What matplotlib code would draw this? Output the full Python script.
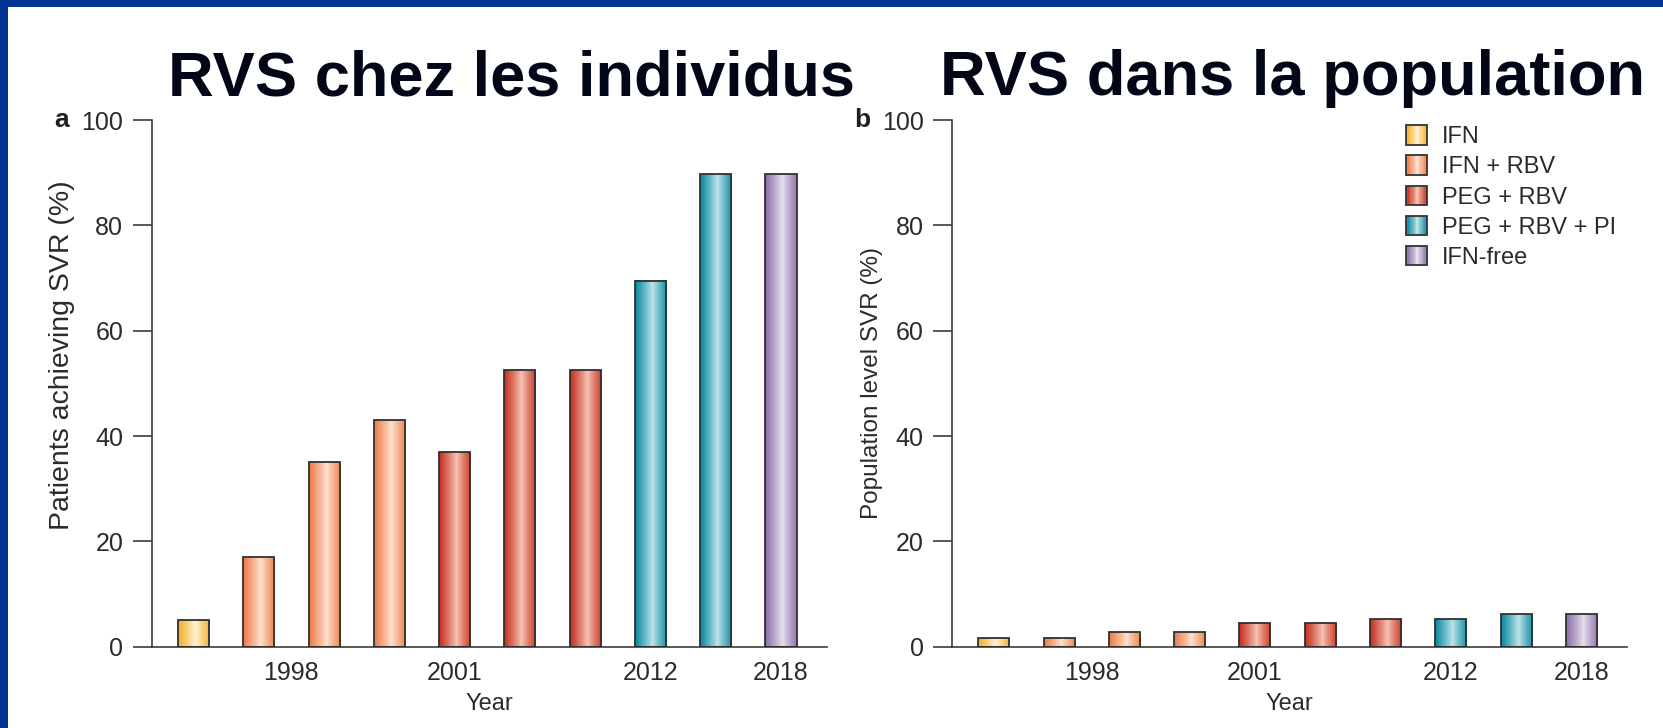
import numpy as np
import matplotlib
matplotlib.use("Agg")
import matplotlib.pyplot as plt
from matplotlib.patches import Rectangle, Patch
from matplotlib.legend_handler import HandlerBase
from matplotlib.colors import to_rgb

plt.rcParams['font.family'] = ['Liberation Sans', 'DejaVu Sans']

# ---------------- data ----------------
therapies = ['IFN', 'IFN + RBV', 'PEG + RBV', 'PEG + RBV + PI', 'IFN-free']
bar_therapy = [0, 1, 1, 1, 2, 2, 2, 3, 3, 4]
individual_svr = [5, 17, 35, 43, 37, 52.5, 52.5, 69.5, 89.7, 89.7]
population_svr = [1.7, 1.7, 2.8, 2.8, 4.5, 4.5, 5.2, 5.2, 6.2, 6.2]
year_tick_pos = [1.5, 4, 7, 9]
year_labels = ['1998', '2001', '2012', '2018']
y_ticks = [0, 20, 40, 60, 80, 100]
titles = ['RVS chez les individus', 'RVS dans la population']
panel_letters = ['a', 'b']
y_labels = ['Patients achieving SVR (%)', 'Population level SVR (%)']
x_label = 'Year'

# gradient colours (edge, centre) per therapy
edge_cols = ['#f4ad22', '#ef7a44', '#c62c1c', '#05889e', '#8a6ca4']
centre_cols = ['#fff4d6', '#fde3d3', '#f6c5b6', '#c2e4ec', '#e8e1f0']

TXT = '#2b2b2b'
AX = '#3c3c3c'


def gradient_row(ci, n=64):
    e = np.array(to_rgb(edge_cols[ci]))
    c = np.array(to_rgb(centre_cols[ci]))
    t = np.linspace(0, 1, n)
    peak = 0.55
    d = np.where(t < peak, (peak - t) / peak, (t - peak) / (1 - peak) * 0.88)
    w = np.clip(d, 0, 1) ** 0.9
    rgb = c[None, :] * (1 - w[:, None]) + e[None, :] * w[:, None]
    return rgb[None, :, :]


class GradHandler(HandlerBase):
    def create_artists(self, legend, orig_handle, xdescent, ydescent,
                       width, height, fontsize, trans):
        ci = therapies.index(orig_handle.get_label())
        rgb = gradient_row(ci, 16)[0]
        n = len(rgb)
        arts = []
        x0, y0 = -xdescent, -ydescent
        for i in range(n):
            r = Rectangle((x0 + i * width / n, y0), width / n + 0.3, height,
                          facecolor=rgb[i], edgecolor='none', transform=trans)
            arts.append(r)
        arts.append(Rectangle((x0, y0), width, height, facecolor='none',
                              edgecolor='#333333', linewidth=1.3, transform=trans))
        return arts


fig = plt.figure(figsize=(16.63, 7.28), dpi=100)
W, H = 1663, 728

# blue frame
fig.patches.append(Rectangle((0, 1 - 7 / H), 1, 7 / H, transform=fig.transFigure,
                             facecolor='#023593', edgecolor='none', zorder=0))
fig.patches.append(Rectangle((0, 0), 8 / W, 1, transform=fig.transFigure,
                             facecolor='#023593', edgecolor='none', zorder=0))

ax_left_px = [151.7, 952]
ax_w_px = 675
ax_bottom = (H - 646.7) / H
ax_h = 526.7 / H
ylabel_size = [20.5, 17.5]
ylabel_xy = [(-0.114, 0.553), (-0.102, 0.5)]

axes = []
for k, vals in enumerate([individual_svr, population_svr]):
    ax = fig.add_axes([ax_left_px[k] / W, ax_bottom, ax_w_px / W, ax_h])
    axes.append(ax)
    x = np.arange(len(vals))
    bars = ax.bar(x, vals, width=0.475, facecolor='none', edgecolor='#303030',
                  linewidth=1.3, zorder=3)
    for b, ci in zip(bars, bar_therapy):
        bx, bw, bh = b.get_x(), b.get_width(), b.get_height()
        ax.imshow(gradient_row(ci), extent=[bx, bx + bw, 0, bh], aspect='auto',
                  interpolation='bilinear', zorder=2)
    ax.set_xlim(-0.64, 9.7)
    ax.set_ylim(0, 100)
    ax.set_yticks(y_ticks)
    ax.set_xticks(year_tick_pos)
    ax.set_xticklabels(year_labels)
    for s in ['top', 'right']:
        ax.spines[s].set_visible(False)
    for s in ['left', 'bottom']:
        ax.spines[s].set_color(AX)
        ax.spines[s].set_linewidth(1.2)
    ax.tick_params(axis='y', length=13.5, width=1.2, color=AX, pad=7,
                   labelsize=18, labelcolor=TXT)
    ax.tick_params(axis='x', length=0, pad=10, labelsize=18, labelcolor=TXT)
    ax.set_xlabel(x_label, fontsize=17, color=TXT, labelpad=6)
    ax.set_ylabel(y_labels[k], fontsize=ylabel_size[k], color=TXT)
    ax.yaxis.set_label_coords(*ylabel_xy[k])
    ax.text(-0.145, 1.0, panel_letters[k], transform=ax.transAxes,
            fontsize=19, fontweight='bold', color='#231f20', ha='left', va='center')

# titles
fig.text(512 / W, 1 - 95 / H, titles[0], fontsize=45.5, fontweight='bold',
         color='#020617', ha='center', va='baseline')
fig.text(1292 / W, 1 - 95 / H, titles[1], fontsize=45.5, fontweight='bold',
         color='#020617', ha='center', va='baseline')

handles = [Patch(facecolor=edge_cols[i], label=t) for i, t in enumerate(therapies)]
axes[1].legend(handles=handles, handler_map={Patch: GradHandler()},
               loc='upper left', bbox_to_anchor=(0.6725, 0.99), frameon=False,
               fontsize=17, handlelength=0.89, handleheight=0.89,
               handletextpad=0.64, labelspacing=0.31, borderpad=0,
               borderaxespad=0, labelcolor=TXT)

fig.savefig('out.png', dpi=100)
